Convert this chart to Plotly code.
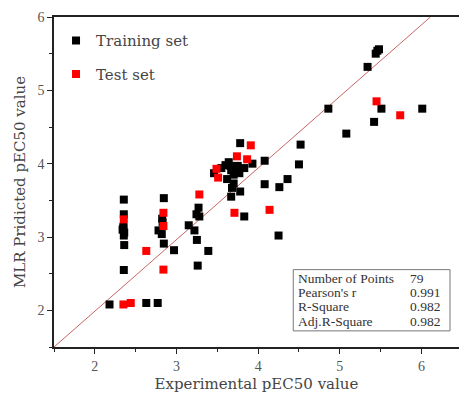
import plotly.graph_objects as go

# Training set (experimental, predicted)
train_x = [2.18, 2.355, 2.355, 2.35, 2.34, 2.36, 2.355, 2.36, 2.355, 2.35, 2.63, 2.77,
           2.845, 2.825, 2.83, 2.78, 2.82, 2.845, 2.97,
           3.27, 3.245, 3.28, 3.15, 3.22, 3.25, 3.26, 3.39,
           3.46, 3.55, 3.62, 3.64, 3.66, 3.67, 3.75, 3.83, 3.77, 3.70, 3.68, 3.78, 3.67,
           3.78, 3.93, 3.83, 3.70, 3.60, 3.72,
           4.08, 4.08, 4.26, 4.36, 4.50, 4.52, 4.25,
           4.86, 5.08, 5.34, 5.44, 5.46, 5.48, 5.51, 5.42, 6.01]
train_y = [2.08, 3.51, 3.31, 3.14, 3.10, 3.06, 3.02, 2.89, 2.55, 3.12, 2.10, 2.10,
           3.53, 3.25, 3.20, 3.09, 3.04, 2.91, 2.82,
           3.40, 3.31, 3.28, 3.16, 3.09, 2.96, 2.61, 2.81,
           3.87, 3.94, 3.79, 4.02, 3.97, 3.91, 3.97, 3.94, 3.87, 3.73, 3.67, 3.62, 3.55,
           4.28, 4.00, 3.28, 3.85, 3.98, 3.95,
           4.04, 3.72, 3.68, 3.79, 3.99, 4.26, 3.02,
           4.75, 4.41, 5.32, 5.50, 5.54, 5.56, 4.75, 4.57, 4.75]

# Test set
test_x = [2.35, 2.44, 2.63, 2.355, 2.84, 2.84, 2.84, 3.28, 3.49, 3.51, 3.71, 3.74,
          3.865, 3.91, 4.14, 5.45, 5.74]
test_y = [2.08, 2.10, 2.81, 3.24, 3.33, 3.15, 2.555, 3.58, 3.93, 3.81, 3.33, 4.10,
          4.06, 4.25, 3.37, 4.85, 4.66]

# Fitted line endpoints
fit_x = [1.5, 6.11]
fit_y = [1.5, 6.0]

stat_labels = ["Number of Points", "Pearson's r", "R-Square", "Adj.R-Square"]
stat_values = ["79", "0.991", "0.982", "0.982"]

FONT = "DejaVu Serif"
TICKFONT = "Liberation Serif"

fig = go.Figure()
fig.add_trace(go.Scatter(x=fit_x, y=fit_y, mode="lines",
                         line=dict(color="#c86464", width=1), showlegend=False,
                         hoverinfo="skip"))
fig.add_trace(go.Scatter(x=train_x, y=train_y, mode="markers", name="Training set",
                         legendgroup="a",
                         marker=dict(symbol="square", size=8, color="black")))
fig.add_trace(go.Scatter(x=test_x, y=test_y, mode="markers", name="Test set",
                         legendgroup="b",
                         marker=dict(symbol="square", size=8, color="#ff0000")))

# stats box
fig.add_shape(type="rect", xref="x", yref="y", x0=4.43, x1=6.35, y0=1.72, y1=2.555,
              line=dict(color="#777", width=1), fillcolor="white", layer="above")
row_y = [2.437, 2.24, 2.046, 1.845]
for lab, val, yy in zip(stat_labels, stat_values, row_y):
    fig.add_annotation(x=4.46, y=yy, xref="x", yref="y", text=lab, showarrow=False,
                       xanchor="left", yanchor="middle",
                       font=dict(family=TICKFONT, size=13.5, color="#333"))
    fig.add_annotation(x=5.84, y=yy, xref="x", yref="y", text=val, showarrow=False,
                       xanchor="left", yanchor="middle",
                       font=dict(family=TICKFONT, size=13.5, color="#333"))

axis_common = dict(showgrid=False, zeroline=False, showline=True, linecolor="#222",
                   linewidth=1.5, ticks="outside", ticklen=5, tickwidth=1.2,
                   tickcolor="#222", tickfont=dict(family=TICKFONT, size=14, color="#555"),
                   dtick=1,
                   minor=dict(dtick=0.5, ticks="outside", ticklen=3, tickcolor="#222"))

fig.update_layout(
    width=459, height=394,
    margin=dict(l=54, r=0, t=17, b=47),
    paper_bgcolor="white", plot_bgcolor="white",
    xaxis=dict(range=[1.5, 6.46], mirror=True, tick0=2,
               title=dict(text="Experimental pEC50 value", standoff=6,
                          font=dict(family=FONT, size=15, color="#444")),
               **axis_common),
    yaxis=dict(range=[1.5, 6.0], mirror=False, tick0=2,
               title=dict(text="MLR Pridicted pEC50 value", standoff=8,
                          font=dict(family=FONT, size=15, color="#444")),
               **axis_common),
    legend=dict(x=0.005, y=0.978, xanchor="left", yanchor="top",
                bgcolor="rgba(0,0,0,0)", tracegroupgap=11,
                font=dict(family=FONT, size=15, color="#444")),
    showlegend=True,
)

fig.write_html("out.html")
